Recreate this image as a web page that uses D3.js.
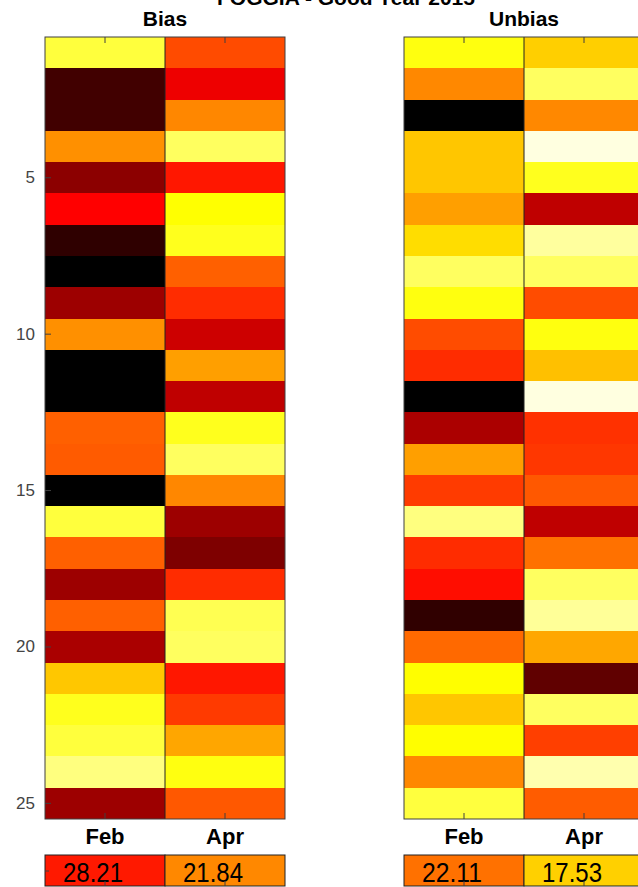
<!DOCTYPE html>
<html>
<head>
<meta charset="utf-8">
<script src="https://cdn.jsdelivr.net/npm/d3@7"></script>
<style>
  body { margin: 0; background: #fff; }
  text { font-family: "Liberation Sans", Arial, sans-serif; }
</style>
</head>
<body>
<svg id="chart"></svg>
<script>
// DATA
const chart_title = "FOGGIA - Good Year 2015"
const months = ["Feb", "Apr"]
const rows = d3.range(1, 26)
const y_ticks = [5, 10, 15, 20, 25]

const bias_feb = [12.7, 40.5, 40.5, 21.4, 36.2, 29.6, 41.5, 45.0, 35.2, 21.4, 46.0, 45.3, 24.1,
                  24.4, 47.2, 12.7, 24.1, 35.2, 24.1, 34.5, 18.2, 13.9, 12.7, 10.2, 35.2]
const bias_apr = [25.3, 30.6, 21.9, 11.4, 28.3, 15.0, 13.9, 24.1, 27.1, 32.5, 20.5, 33.3, 13.9,
                  11.4, 21.9, 35.2, 37.0, 27.1, 11.9, 11.4, 28.3, 26.3, 20.1, 14.4, 24.6]
const unbias_feb = [14.8, 21.0, 40.5, 18.0, 18.0, 19.9, 16.9, 12.2, 14.8, 23.9, 25.4, 41.0, 31.6,
                    19.9, 24.7, 11.2, 25.4, 26.9, 37.5, 22.5, 15.3, 18.0, 15.3, 21.0, 13.3]
const unbias_apr = [17.6, 12.2, 21.0, 8.1, 14.3, 30.6, 10.2, 12.2, 23.9, 14.8, 18.3, 8.1, 25.2,
                    24.9, 23.3, 30.6, 22.1, 12.2, 10.4, 19.5, 35.2, 12.2, 24.5, 9.7, 23.1]
const bias_mean = [28.21, 21.84]
const unbias_mean = [22.11, 17.53]
// colour limits (high error = dark)
const bias_clim = [44.2, 5.3]
const unbias_clim = [39.8, 7.1]

const W = 638, H = 887
const top_y = 37, bottom_y = 819, panel_w = 240
const box_top = 855, box_bottom = 886

const svg = d3.select("#chart")
              .attr("width", W)
              .attr("height", H)

// matlab "hot" colormap
const hot = function(t) {
  t = Math.max(0, Math.min(1, t))
  const r = Math.min(1, t / 0.375),
        g = Math.max(0, Math.min(1, (t - 0.375) / 0.375)),
        b = Math.max(0, Math.min(1, (t - 0.75) / 0.25))
  return d3.rgb(r * 255, g * 255, b * 255).formatHex()
}

const panels = [
  {title: "Bias", x0: 45, values: [bias_feb, bias_apr], mean: bias_mean, clim: bias_clim, side: "left"},
  {title: "Unbias", x0: 404, values: [unbias_feb, unbias_apr], mean: unbias_mean, clim: unbias_clim, side: "right"}
]

const y = d3.scaleBand()
            .domain(rows)
            .range([top_y, bottom_y])

// main title (cut at the top in the original)
svg.append("text")
   .attr("x", 346)
   .attr("y", 5)
   .attr("text-anchor", "middle")
   .attr("font-size", 21)
   .attr("font-weight", "bold")
   .text(chart_title)

panels.forEach(function(p) {
  const x = d3.scaleBand()
              .domain(months)
              .range([p.x0, p.x0 + panel_w])
  const t = d3.scaleLinear().domain(p.clim).range([0, 1])
  const color = v => hot(t(v))

  const g = svg.append("g").attr("class", "panel")

  // title
  g.append("text")
   .attr("x", p.x0 + panel_w / 2)
   .attr("y", 26)
   .attr("text-anchor", "middle")
   .attr("font-size", 21)
   .attr("font-weight", "bold")
   .text(p.title)

  // cells
  const cells = months.flatMap((m, j) => p.values[j].map((v, i) => ({month: m, row: rows[i], v: v})))
  g.append("g")
   .selectAll("rect")
   .data(cells)
   .enter()
   .append("rect")
   .attr("x", d => x(d.month))
   .attr("y", d => y(d.row))
   .attr("width", x.bandwidth())
   .attr("height", y.bandwidth())
   .attr("fill", d => color(d.v))
   .attr("shape-rendering", "crispEdges")

  // column divider
  g.append("line")
   .attr("x1", x(months[1]))
   .attr("x2", x(months[1]))
   .attr("y1", top_y)
   .attr("y2", bottom_y)
   .attr("stroke", "#222")

  // frame
  g.append("rect")
   .attr("x", p.x0)
   .attr("y", top_y)
   .attr("width", panel_w)
   .attr("height", bottom_y - top_y)
   .attr("fill", "none")
   .attr("stroke", "#404040")

  // axes (right-hand labels fall outside the picture, so only ticks there)
  const y_axis = (p.side == "left" ? d3.axisLeft(y) : d3.axisRight(y).tickFormat(""))
                   .tickValues(y_ticks)
                   .tickSize(-6)
                   .tickPadding(10)
  const ya = g.append("g")
              .attr("transform", "translate(" + (p.side == "left" ? p.x0 : p.x0 + panel_w) + ",0)")
              .call(y_axis)
  ya.select(".domain").remove()
  ya.selectAll("line").attr("stroke", "#404040")
  ya.selectAll("text").attr("font-size", 17).attr("fill", "#444")
    .attr("font-family", "'Liberation Sans', Arial, sans-serif")

  const xb = g.append("g")
              .attr("transform", "translate(0," + bottom_y + ")")
              .call(d3.axisBottom(x).tickSize(-6).tickPadding(9))
  xb.select(".domain").remove()
  xb.selectAll("line").attr("stroke", "#404040")
  xb.selectAll("text").attr("font-size", 22).attr("font-weight", "bold").attr("fill", "#000")
    .attr("font-family", "'Liberation Sans', Arial, sans-serif")

  const xt = g.append("g")
              .attr("transform", "translate(0," + top_y + ")")
              .call(d3.axisTop(x).tickSize(-6).tickFormat(""))
  xt.select(".domain").remove()
  xt.selectAll("line").attr("stroke", "#404040")

  // MEAN BOXES
  const box = g.append("g").attr("class", "mean_box")
  box.selectAll("rect")
     .data(p.mean)
     .enter()
     .append("rect")
     .attr("x", (d, i) => x(months[i]))
     .attr("y", box_top)
     .attr("width", x.bandwidth())
     .attr("height", box_bottom - box_top)
     .attr("fill", d => color(d))
     .attr("stroke", "#222")
  box.selectAll("text")
     .data(p.mean)
     .enter()
     .append("text")
     .attr("x", (d, i) => x(months[i]) + x.bandwidth() / 2 - 12)
     .attr("y", box_bottom - 4)
     .attr("text-anchor", "middle")
     .attr("font-size", 28)
     .attr("textLength", 60)
     .attr("lengthAdjust", "spacingAndGlyphs")
     .text(d => d3.format(".2f")(d))

  const xbb = box.append("g")
                 .attr("transform", "translate(0," + box_bottom + ")")
                 .call(d3.axisBottom(x).tickSize(-5).tickFormat(""))
  xbb.select(".domain").remove()
  xbb.selectAll("line").attr("stroke", "#404040")
  const box_y = d3.scaleLinear().domain([0, 1]).range([box_bottom, box_top])
  const ybb = box.append("g")
                 .attr("transform", "translate(" + (p.side == "left" ? p.x0 : p.x0 + panel_w) + ",0)")
                 .call((p.side == "left" ? d3.axisLeft(box_y) : d3.axisRight(box_y))
                         .tickValues([0.5]).tickSize(-4).tickFormat(""))
  ybb.select(".domain").remove()
  ybb.selectAll("line").attr("stroke", "#404040")
})
</script>
</body>
</html>
